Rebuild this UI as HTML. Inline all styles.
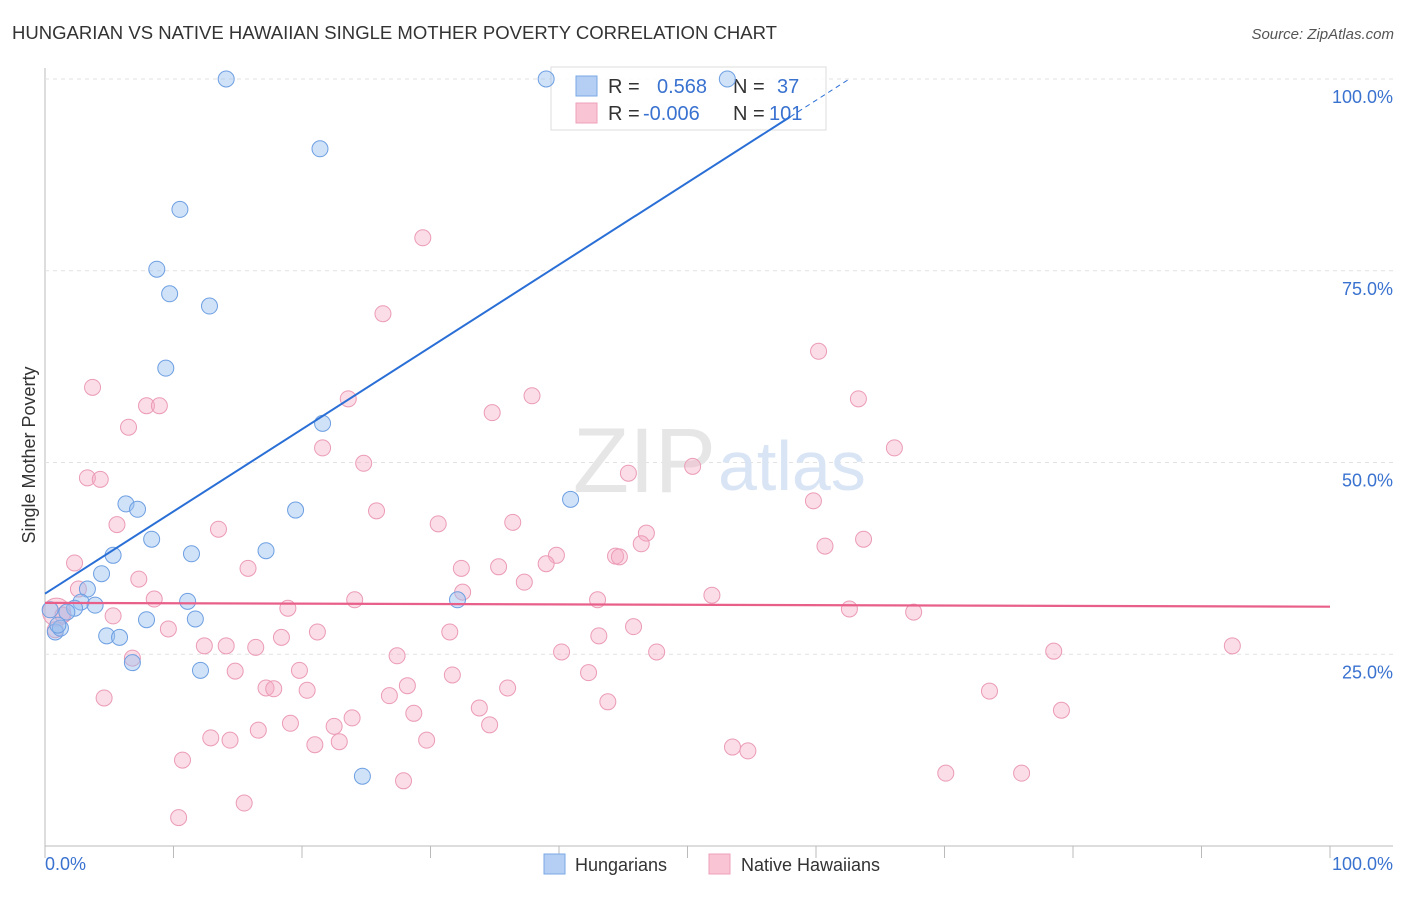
<!DOCTYPE html>
<html><head><meta charset="utf-8"><style>
body{margin:0;background:#fff;font-family:"Liberation Sans",sans-serif;}
svg text{font-family:"Liberation Sans",sans-serif;}
</style></head><body>
<svg id="chart" width="1406" height="892">
<text x="12" y="39" font-size="18" fill="#333" textLength="765" lengthAdjust="spacingAndGlyphs">HUNGARIAN VS NATIVE HAWAIIAN SINGLE MOTHER POVERTY CORRELATION CHART</text>
<text x="1394" y="39" font-size="15" fill="#555" text-anchor="end" font-style="italic">Source: ZipAtlas.com</text>
<text x="35" y="455" font-size="18" fill="#333" transform="rotate(-90 35 455)" text-anchor="middle">Single Mother Poverty</text>
<g id="grid"></g>
<text x="716" y="492" font-size="92" fill="#e6e6e6" font-family="Liberation Serif" text-anchor="end">ZIP</text>
<text x="718" y="490" font-size="70" fill="#d9e5f5">atlas</text>
<g>
<rect x="551" y="67" width="275" height="63" fill="rgba(255,255,255,0.85)" stroke="#ddd"/>
<rect x="576" y="76" width="21" height="20" fill="#b4cff3" stroke="#7aa8e6"/>
<rect x="576" y="103" width="21" height="20" fill="#f9c4d3" stroke="#eea0b8"/>
<text x="608" y="93" font-size="20" fill="#333">R =</text>
<text x="657" y="93" font-size="20" fill="#3a72d0">0.568</text>
<text x="733" y="93" font-size="20" fill="#333">N =</text>
<text x="777" y="93" font-size="20" fill="#3a72d0">37</text>
<text x="608" y="120" font-size="20" fill="#333">R =</text>
<text x="643" y="120" font-size="20" fill="#3a72d0">-0.006</text>
<text x="733" y="120" font-size="20" fill="#333">N =</text>
<text x="769" y="120" font-size="20" fill="#3a72d0">101</text>
</g>
<g id="pts"></g>
<g id="lines"></g>
<g>
<rect x="544" y="854" width="21" height="20" fill="#b4cff3" stroke="#7aa8e6"/>
<text x="575" y="871" font-size="18" fill="#333">Hungarians</text>
<rect x="709" y="854" width="21" height="20" fill="#f9c4d3" stroke="#eea0b8"/>
<text x="741" y="871" font-size="18" fill="#333">Native Hawaiians</text>
</g>
<text x="45" y="870" font-size="18" fill="#3a72d0">0.0%</text>
<text x="1393" y="870" font-size="18" fill="#3a72d0" text-anchor="end">100.0%</text>
</svg>
<script>
const yTicks=[25,50,75,100];
const yTickLabels=["25.0%","50.0%","75.0%","100.0%"];
const blueX=[14.1,39.0,53.1,21.4,10.5,8.7,9.7,12.8,9.4,21.6,40.9,6.3,7.2,19.5,8.3,17.2,11.4,5.3,4.4,3.3,2.8,3.9,2.3,1.7,11.1,11.7,7.9,32.1,4.8,5.8,6.8,12.1,24.7,0.8,1.2,0.4,1.0];
const blueY=[100,100,100,90.9,83.0,75.2,72.0,70.4,62.3,55.1,45.2,44.6,43.9,43.8,40.0,38.5,38.1,37.9,35.5,33.5,31.8,31.4,31.0,30.5,31.9,29.6,29.5,32.1,27.4,27.2,23.9,22.9,9.1,27.9,28.4,30.8,28.8];
const pinkX=[29.4,26.3,60.2,3.7,6.5,7.9,8.9,23.6,37.9,34.8,63.3,66.1,21.6,24.8,50.4,45.4,3.3,4.3,59.8,25.8,36.4,30.6,5.6,13.5,46.8,60.7,63.7,46.4,39.8,44.4,44.7,39.0,15.8,32.4,35.3,2.3,37.3,7.3,2.6,8.5,24.1,43.0,51.9,32.5,18.9,62.6,67.6,5.3,9.6,21.2,31.5,45.8,43.1,18.4,12.4,14.1,16.4,40.2,47.6,78.5,92.4,6.8,27.4,19.8,31.7,42.3,14.8,17.2,17.8,20.4,28.2,26.8,36.0,73.5,4.6,43.8,33.8,79.1,28.7,23.9,19.1,34.6,22.5,16.6,12.9,14.4,29.7,21.0,22.9,53.5,54.7,10.7,70.1,76.0,15.5,27.9,10.4,0.9,1.4,0.8];
const pinkY=[79.3,69.4,64.5,59.8,54.6,57.4,57.4,58.3,58.7,56.5,58.3,51.9,51.9,49.9,49.5,48.6,48.0,47.8,45.0,43.7,42.2,42.0,41.9,41.3,40.8,39.1,40.0,39.4,37.9,37.8,37.7,36.8,36.2,36.2,36.4,36.9,34.4,34.8,33.5,32.2,32.1,32.1,32.7,33.1,31.0,30.9,30.5,30.0,28.3,27.9,27.9,28.6,27.4,27.2,26.1,26.1,25.9,25.3,25.3,25.4,26.1,24.5,24.8,22.9,22.3,22.6,22.8,20.6,20.5,20.3,20.9,19.6,20.6,20.2,19.3,18.8,18.0,17.7,17.3,16.7,16.0,15.8,15.6,15.1,14.1,13.8,13.8,13.2,13.6,12.9,12.4,11.2,9.5,9.5,5.6,8.5,3.7,30.5,30.1,28.2];
const blueTrend=[32.9,1.072];
const pinkTrend=[31.7,31.2];
const X=v=>45+v*12.85, Y=v=>846-v*7.67;
const NS="http://www.w3.org/2000/svg";
function mk(t,a,p){const e=document.createElementNS(NS,t);for(const k in a)e.setAttribute(k,a[k]);p.appendChild(e);return e;}
const grid=document.getElementById('grid');
const ax=mk('line',{x1:45,y1:68,x2:45,y2:846,stroke:'#bbb'},grid);


const bx=mk('line',{x1:45,y1:846,x2:1393,y2:846,stroke:'#bbb'},grid);


for(let i=0;i<=10;i++){const t=mk('line',{x1:X(i*10),y1:846,x2:X(i*10),y2:858,stroke:'#bbb'},grid);

}
yTicks.forEach((v,i)=>{const g=mk('line',{x1:45,y1:Y(v),x2:1393,y2:Y(v),stroke:'#e2e2e2','stroke-dasharray':'4,4'},grid);


const t=mk('text',{x:1393,y:Y(v)+24,'font-size':18,fill:'#3a72d0','text-anchor':'end'},grid);t.textContent=yTickLabels[i];

});
const pts=document.getElementById('pts');
pinkX.forEach((x,i)=>{const big=i===pinkX.length-3;const c=mk('circle',{cx:X(x),cy:Y(pinkY[i]),r:big?14:8,fill:'rgba(246,170,195,0.4)',stroke:'#eb9bb5','stroke-width':1},pts);

});
blueX.forEach((x,i)=>{const c=mk('circle',{cx:X(x),cy:Y(blueY[i]),r:8,fill:'rgba(150,190,240,0.45)',stroke:'#6d9fe2','stroke-width':1},pts);

});
const ln=document.getElementById('lines');
const bs=mk('line',{x1:X(0),y1:Y(blueTrend[0]),x2:X(58),y2:Y(blueTrend[0]+58*blueTrend[1]),stroke:'#2a6fd6','stroke-width':2},ln);


const bd=mk('line',{x1:X(58),y1:Y(blueTrend[0]+58*blueTrend[1]),x2:X(62.6),y2:Y(blueTrend[0]+62.6*blueTrend[1]),stroke:'#2a6fd6','stroke-width':1,'stroke-dasharray':'5,4'},ln);


const ps=mk('line',{x1:X(0),y1:Y(pinkTrend[0]),x2:X(100),y2:Y(pinkTrend[1]),stroke:'#e8608a','stroke-width':2.2},ln);


</script>
</body></html>
